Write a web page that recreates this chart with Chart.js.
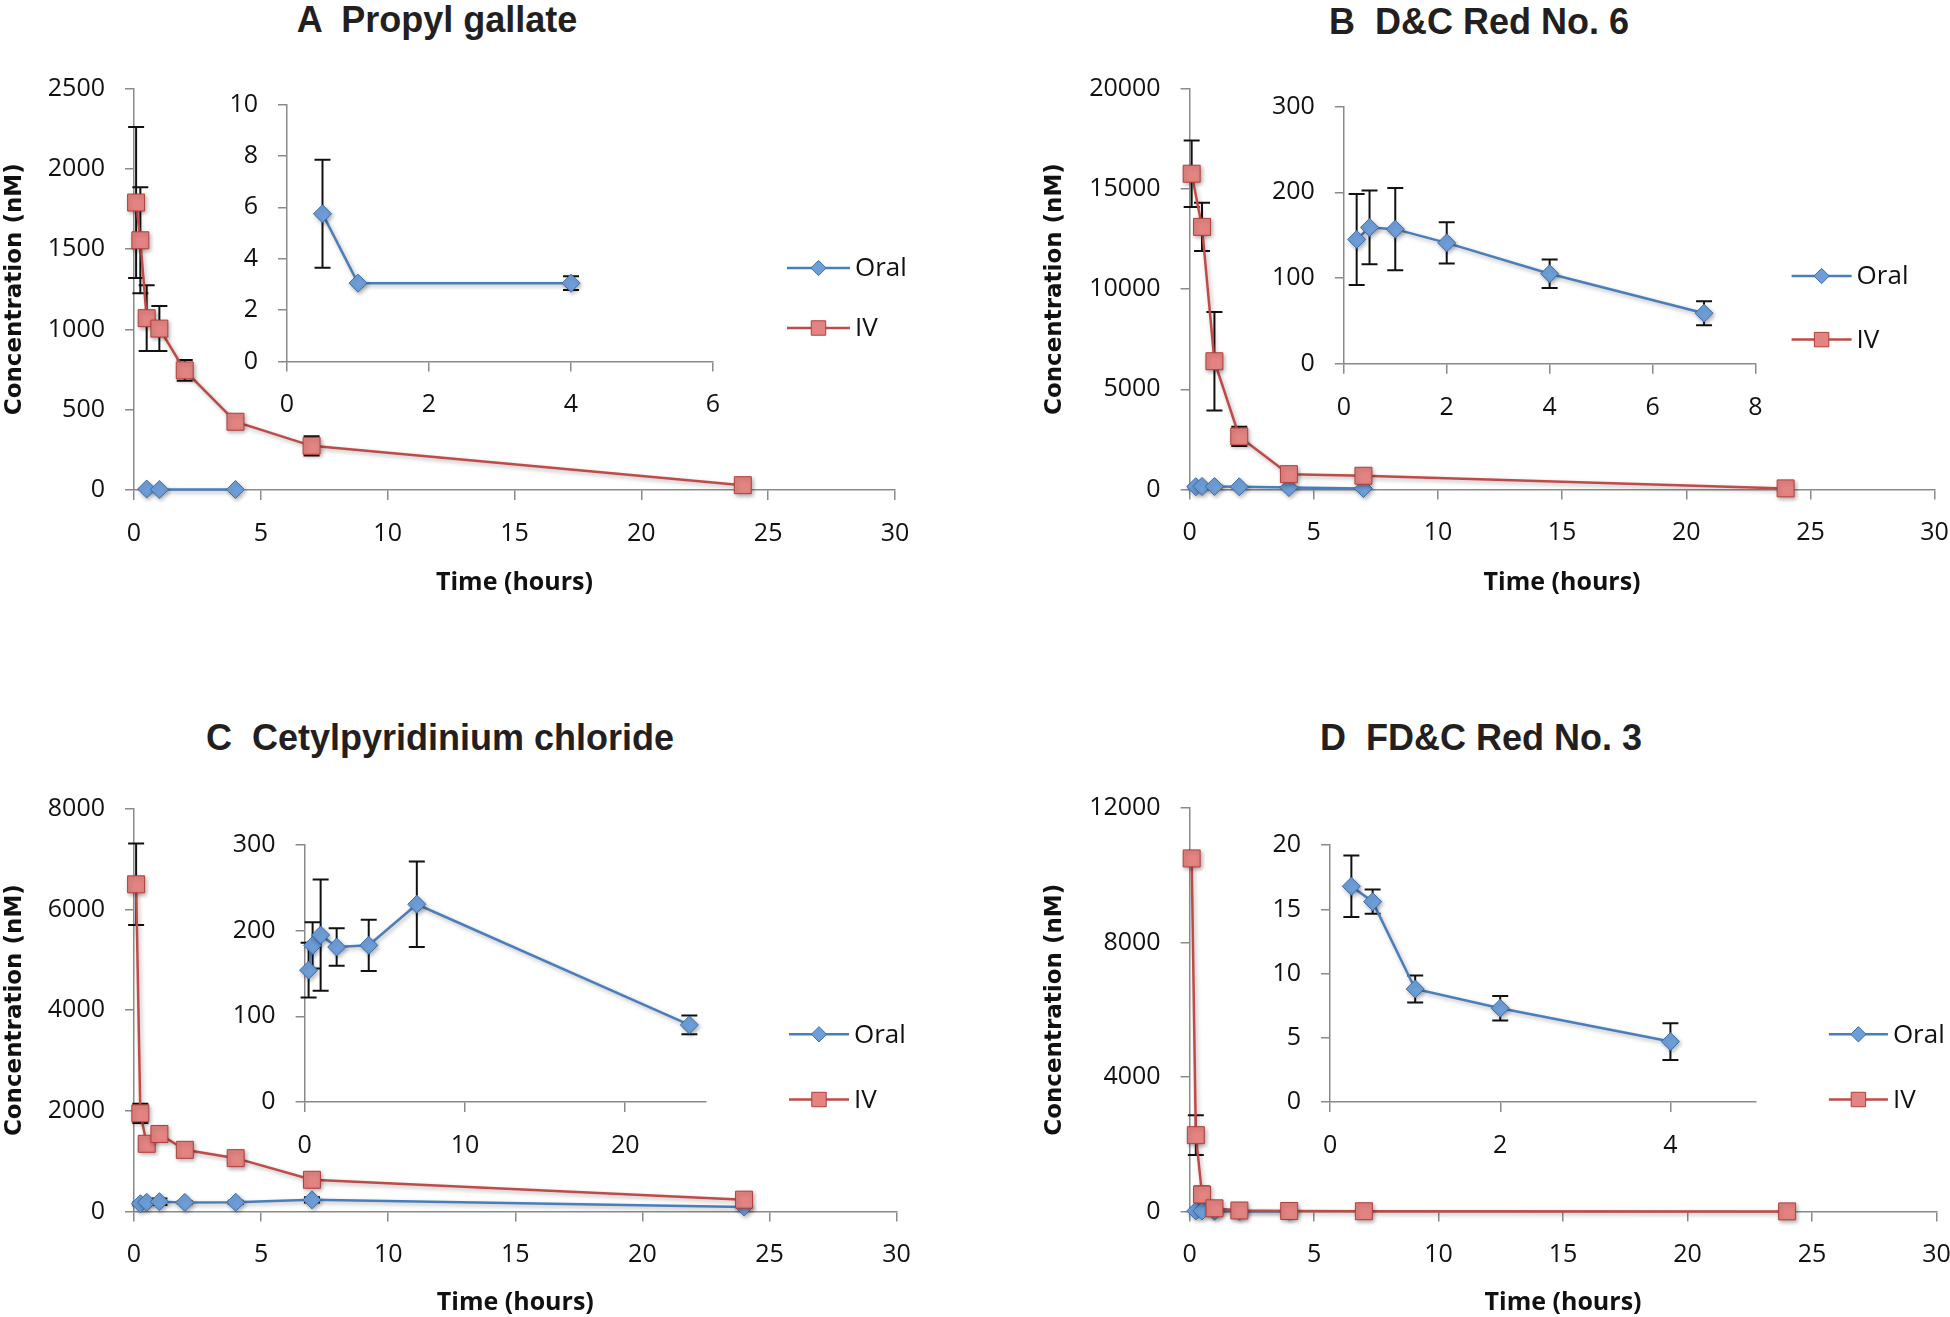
<!DOCTYPE html>
<html lang="en">
<head>
<meta charset="UTF-8">
<title>Oral vs IV - concentração</title>
<script src="https://cdn.jsdelivr.net/npm/chart.js"></script>
<style>
    body { margin: 0; width: 1950px; height: 1317px; overflow: hidden; background: #fff; position: relative; }
    canvas { position: absolute; }
    .titulo { position: absolute; transform: translateX(-50%); font: bold 36px "Liberation Sans", Arial, sans-serif; line-height: 36px; white-space: pre; color: #231f20; }
</style>
</head>
<body>
    <div class="titulo" style="left:437px;top:2px">A  Propyl gallate</div>
    <div class="titulo" style="left:1479px;top:4px">B  D&amp;C Red No. 6</div>
    <div class="titulo" style="left:440px;top:720px">C  Cetylpyridinium chloride</div>
    <div class="titulo" style="left:1481px;top:720px">D  FD&amp;C Red No. 3</div>

    <canvas id="main-a" width="975" height="640" style="left:0;top:0"></canvas>
    <canvas id="inset-a" width="560" height="360" style="left:180px;top:80px"></canvas>
    <canvas id="main-b" width="975" height="640" style="left:975px;top:0"></canvas>
    <canvas id="inset-b" width="560" height="360" style="left:1230px;top:80px"></canvas>
    <canvas id="main-c" width="975" height="677" style="left:0;top:640px"></canvas>
    <canvas id="inset-c" width="560" height="380" style="left:200px;top:800px"></canvas>
    <canvas id="main-d" width="975" height="677" style="left:975px;top:640px"></canvas>
    <canvas id="inset-d" width="560" height="380" style="left:1230px;top:800px"></canvas>

<script>
    // ---- dados ----
    const timeTicks = [0, 5, 10, 15, 20, 25, 30];

    // A - Propyl gallate
    const timeIvA = [0.083, 0.25, 0.5, 1, 2, 4, 7, 24];
    const ivA = [1790, 1555, 1070, 1005, 745, 425, 275, 30];
    const ivErrA = [470, 330, 205, 140, 65, 20, 60, 10];
    const timeOralA = [0.5, 1, 4];
    const oralA = [5.75, 3.05, 3.05];
    const oralErrA = [2.1, 0, 0.27];
    const yTicksA = [0, 500, 1000, 1500, 2000, 2500];
    const insetXTicksA = [0, 2, 4, 6];
    const insetYTicksA = [0, 2, 4, 6, 8, 10];

    // B - D&C Red No. 6
    const timeIvB = [0.083, 0.5, 1, 2, 4, 7, 24];
    const ivB = [15750, 13100, 6400, 2650, 770, 690, 60];
    const ivErrB = [1660, 1200, 2450, 480, 100, 80, 20];
    const timeOralB = [0.25, 0.5, 1, 2, 4, 7];
    const oralB = [145, 159, 157, 141, 105, 59];
    const oralErrB = [53, 43, 48, 24, 16.5, 14];
    const yTicksB = [0, 5000, 10000, 15000, 20000];
    const insetXTicksB = [0, 2, 4, 6, 8];
    const insetYTicksB = [0, 100, 200, 300];

    // C - Cetylpyridinium chloride
    const timeIvC = [0.083, 0.25, 0.5, 1, 2, 4, 7, 24];
    const ivC = [6500, 1950, 1345, 1540, 1225, 1060, 630, 235];
    const ivErrC = [810, 190, 100, 100, 100, 100, 100, 60];
    const timeOralC = [0.25, 0.5, 1, 2, 4, 7, 24];
    const oralC = [154, 183, 195, 181, 183, 231, 90];
    const oralErrC = [32, 27, 65, 22, 30, 50, 11];
    const yTicksC = [0, 2000, 4000, 6000, 8000];
    const insetXTicksC = [0, 10, 20];
    const insetYTicksC = [0, 100, 200, 300];

    // D - FD&C Red No. 3
    const timeIvD = [0.083, 0.25, 0.5, 1, 2, 4, 7, 24];
    const ivD = [10500, 2270, 505, 95, 30, 15, 8, 3];
    const ivErrD = [150, 590, 235, 60, 10, 5, 3, 1];
    const timeOralD = [0.25, 0.5, 1, 2, 4];
    const oralD = [16.8, 15.6, 8.8, 7.3, 4.7];
    const oralErrD = [2.4, 0.95, 1.05, 0.95, 1.43];
    const yTicksD = [0, 4000, 8000, 12000];
    const insetXTicksD = [0, 2, 4];
    const insetYTicksD = [0, 5, 10, 15, 20];

    // ---- estilo ----
    Chart.defaults.font.family = '"Open Sans", sans-serif';
    Chart.defaults.color = '#111';
    const cinza = '#8a8a8a';
    const fonteY = { family: '"DejaVu Sans", Verdana, sans-serif', weight: 'bold', size: 23, lineHeight: 1 };
    const fonteX = { family: '"Open Sans", sans-serif', weight: 'bold', size: 25, lineHeight: 1 };

    function pontos(xs, ys) {
        return xs.map((x, i) => ({ x: x, y: ys[i] }));
    }

    function series(tOral, oral, errOral, tIv, iv, errIv) {
        return [
            {
                label: 'Oral',
                data: pontos(tOral, oral),
                erros: errOral,
                showLine: true,
                borderColor: '#4a7ebb',
                backgroundColor: '#6e9ed8',
                pointBorderColor: '#3d6ca6',
                pointStyle: 'rectRot',
                pointRadius: 9,
                pointBorderWidth: 1,
                borderWidth: 2.5,
                order: 1,
                clip: false
            },
            {
                label: 'IV',
                data: pontos(tIv, iv),
                erros: errIv,
                showLine: true,
                borderColor: '#be4b48',
                backgroundColor: '#e38482',
                pointBorderColor: '#b03e3b',
                pointStyle: 'rect',
                pointRadius: 12,
                pointBorderWidth: 1,
                borderWidth: 2.5,
                order: 0,
                clip: false
            }
        ];
    }

    function escala(ticks, max, tamanho, horizontal, titulo, fonte) {
        return {
            type: 'linear',
            min: 0,
            max: max,
            afterBuildTicks: s => { s.ticks = ticks.map(v => ({ value: v })); },
            afterFit: s => {
                if (horizontal) s.height = tamanho; else s.width = tamanho;
                // a área do gráfico é fixada pelo layout.padding
                s.paddingTop = s.paddingBottom = s.paddingLeft = s.paddingRight = 0;
            },
            grid: { drawOnChartArea: false, drawTicks: true, tickLength: horizontal ? 10 : 9, color: cinza, lineWidth: 1.5 },
            border: { color: cinza, width: 1.5 },
            ticks: { padding: horizontal ? 18.6 : 20, font: { size: 25 }, callback: v => String(v) },
            title: titulo ? { display: true, text: titulo, padding: 0, font: fonte, color: '#111' } : { display: false }
        };
    }

    // barras de erro (simétricas), desenhadas por baixo dos marcadores
    const barrasErro = {
        id: 'barrasErro',
        beforeDatasetsDraw(chart) {
            const ctx = chart.ctx, sx = chart.scales.x, sy = chart.scales.y;
            ctx.save();
            ctx.strokeStyle = '#111';
            ctx.lineWidth = 2;
            chart.data.datasets.forEach(ds => {
                (ds.erros || []).forEach((e, j) => {
                    if (!e) return;
                    const p = ds.data[j];
                    const px = sx.getPixelForValue(p.x);
                    const y1 = sy.getPixelForValue(p.y + e);
                    const y2 = sy.getPixelForValue(p.y - e);
                    ctx.beginPath();
                    ctx.moveTo(px, y1); ctx.lineTo(px, y2);
                    ctx.moveTo(px - 8, y1); ctx.lineTo(px + 8, y1);
                    ctx.moveTo(px - 8, y2); ctx.lineTo(px + 8, y2);
                    ctx.stroke();
                });
            });
            ctx.restore();
        }
    };

    // sombra leve nas séries, como no Excel
    const sombra = {
        id: 'sombra',
        beforeDatasetDraw(chart) {
            const c = chart.ctx;
            c.save();
            c.shadowColor = 'rgba(0,0,0,0.3)';
            c.shadowBlur = 4;
            c.shadowOffsetX = 1.5;
            c.shadowOffsetY = 2;
        },
        afterDatasetDraw(chart) { chart.ctx.restore(); }
    };

    function marcador(ctx, estilo, r, x, y) {
        ctx.beginPath();
        if (estilo === 'rectRot') {
            ctx.moveTo(x, y - r); ctx.lineTo(x + r, y); ctx.lineTo(x, y + r); ctx.lineTo(x - r, y);
            ctx.closePath();
        } else {
            const s = r * Math.SQRT1_2;
            ctx.rect(x - s, y - s, 2 * s, 2 * s);
        }
        ctx.fill();
        ctx.stroke();
    }

    // legenda solta, dentro da área do gráfico
    const legendaSolta = {
        id: 'legendaSolta',
        afterDraw(chart, args, o) {
            if (!o || o.x === undefined) return;
            const ctx = chart.ctx;
            chart.data.datasets.forEach((ds, i) => {
                const y = o.y[i];
                ctx.save();
                ctx.strokeStyle = ds.borderColor;
                ctx.lineWidth = 2.5;
                ctx.beginPath(); ctx.moveTo(o.x, y); ctx.lineTo(o.x + o.len, y); ctx.stroke();
                ctx.fillStyle = ds.backgroundColor;
                ctx.strokeStyle = ds.pointBorderColor;
                ctx.lineWidth = 1;
                marcador(ctx, ds.pointStyle, ds.pointRadius * 0.85, o.x + o.len / 2, y);
                ctx.fillStyle = '#111';
                ctx.font = '26px "Open Sans", sans-serif';
                ctx.textBaseline = 'middle';
                ctx.fillText(ds.label, o.x + o.len + 5, y + 1);
                ctx.restore();
            });
        }
    };

    function principal(id, p, dados, yTicks) {
        const padLeft = p.yTituloX - fonteY.size / 2;
        const yWidth = p.area[0] - padLeft;
        const xHeight = p.xTituloY + fonteX.size / 2 - p.area[3];
        const canvas = document.getElementById(id);
        new Chart(canvas, {
            type: 'scatter',
            data: { datasets: dados },
            options: {
                responsive: false,
                animation: false,
                layout: { padding: { left: padLeft, right: canvas.width - p.area[1], top: p.area[2], bottom: canvas.height - p.area[3] - xHeight } },
                scales: {
                    x: escala(timeTicks, 30, xHeight, true, 'Time (hours)', fonteX),
                    y: escala(yTicks, yTicks[yTicks.length - 1], yWidth, false, 'Concentration (nM)', fonteY)
                },
                plugins: { legend: { display: false }, tooltip: { enabled: false }, legendaSolta: p.legenda }
            },
            plugins: [barrasErro, sombra, legendaSolta]
        });
    }

    function inserido(id, area, dados, xTicks, xMax, yTicks) {
        const canvas = document.getElementById(id);
        const xHeight = 60;
        new Chart(canvas, {
            type: 'scatter',
            data: { datasets: dados },
            options: {
                responsive: false,
                animation: false,
                layout: { padding: { left: 0, right: canvas.width - area[1], top: area[2], bottom: canvas.height - area[3] - xHeight } },
                scales: {
                    x: escala(xTicks, xMax, xHeight, true),
                    y: escala(yTicks, yTicks[yTicks.length - 1], area[0], false)
                },
                plugins: { legend: { display: false }, tooltip: { enabled: false } }
            },
            plugins: [barrasErro, sombra]
        });
    }

    // A
    principal('main-a', { area: [134, 895, 88.5, 490], yTituloX: 15, xTituloY: 583, legenda: { x: 787, len: 63, y: [268, 328] } },
        series(timeOralA, oralA, oralErrA, timeIvA, ivA, ivErrA), yTicksA);
    inserido('inset-a', [107, 533, 24.6, 281.5],
        series(timeOralA, oralA, oralErrA, [], [], []).slice(0, 1), insetXTicksA, 6, insetYTicksA);

    // B
    principal('main-b', { area: [214.6, 959.6, 88.5, 489.6], yTituloX: 79.6, xTituloY: 582.7, legenda: { x: 816.6, len: 60, y: [276, 339.6] } },
        series(timeOralB, oralB, oralErrB, timeIvB, ivB, ivErrB), yTicksB);
    inserido('inset-b', [113.8, 525.5, 26.5, 283.8],
        series(timeOralB, oralB, oralErrB, [], [], []).slice(0, 1), insetXTicksB, 8, insetYTicksB);

    // C
    principal('main-c', { area: [134, 896.6, 168.8, 571.5], yTituloX: 15.4, xTituloY: 663, legenda: { x: 789, len: 60, y: [394.3, 459.5] } },
        series(timeOralC, oralC, oralErrC, timeIvC, ivC, ivErrC), yTicksC);
    inserido('inset-c', [104.6, 505.4, 45.2, 301.9],
        series(timeOralC, oralC, oralErrC, [], [], []).slice(0, 1), insetXTicksC, 25, insetYTicksC);

    // D
    principal('main-d', { area: [214.6, 961.5, 168, 571.5], yTituloX: 79.6, xTituloY: 663, legenda: { x: 853.9, len: 59, y: [394.3, 459.5] } },
        series(timeOralD, oralD, oralErrD, timeIvD, ivD, ivErrD), yTicksD);
    inserido('inset-d', [100.1, 525.5, 45.2, 301.9],
        series(timeOralD, oralD, oralErrD, [], [], []).slice(0, 1), insetXTicksD, 5, insetYTicksD);
</script>
</body>
</html>
